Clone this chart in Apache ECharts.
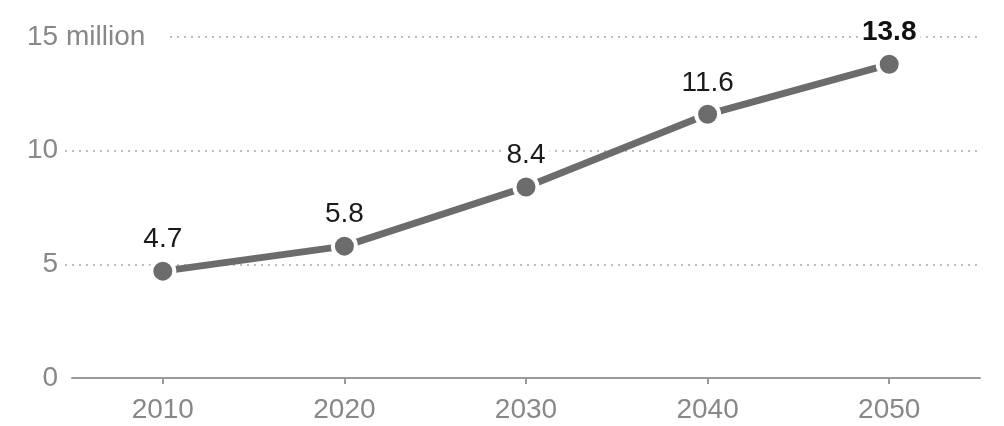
<!DOCTYPE html>
<html>
<head>
<meta charset="utf-8">
<script src="https://cdn.jsdelivr.net/npm/echarts@6/dist/echarts.min.js"></script>
<style>
html,body{margin:0;padding:0;background:#fff;}
#chart{width:1004px;height:426px;}
</style>
</head>
<body>
<div id="chart"></div>
<script>
const years = ['2010', '2020', '2030', '2040', '2050'];
const values = [4.7, 5.8, 8.4, 11.6, 13.8];
const yTickValues = [0, 5, 10, 15];
const yTickLabels = ['0', '5', '10', '15 million'];

const FONT = "'Liberation Sans', Arial, Helvetica, sans-serif";
const chart = echarts.init(document.getElementById('chart'), null, {renderer: 'canvas'});

const seriesData = values.map((v, i) => i === values.length - 1
  ? {value: v, label: {fontWeight: 'bold', color: '#111'}}
  : v);

chart.setOption({
  animation: false,
  backgroundColor: '#fff',
  grid: [
    {left: 65, right: 24, top: 37, bottom: 48},
    {left: 72, right: 24, top: 37, bottom: 48}
  ],
  xAxis: [
    {gridIndex: 0, type: 'value', show: false, min: 0, max: 1},
    {
      gridIndex: 1, type: 'category', data: years, boundaryGap: true,
      axisLine: {show: true, lineStyle: {color: '#9a9a9a', width: 2}},
      axisTick: {show: true, alignWithLabel: true, length: 6, lineStyle: {color: '#9a9a9a', width: 2}},
      axisLabel: {color: '#888888', fontSize: 28, fontFamily: FONT, margin: 18},
      splitLine: {show: false}
    }
  ],
  yAxis: [
    {
      gridIndex: 0, type: 'value', min: 0, max: 15, interval: 5,
      axisLine: {show: false}, axisTick: {show: false},
      axisLabel: {
        color: '#888888', fontSize: 28, fontFamily: FONT, align: 'left', margin: 38,
        formatter: function (val) {
          const idx = yTickValues.indexOf(val);
          const txt = idx >= 0 ? yTickLabels[idx] : String(val);
          if (idx === yTickValues.length - 1) return '{big|' + txt + '}';
          return txt.length === 1 ? '\u2007' + txt : txt;
        },
        rich: {
          big: {backgroundColor: '#fff', padding: [0, 20, 0, 0], color: '#888888', fontSize: 28, fontFamily: FONT}
        }
      },
      splitLine: {show: true, lineStyle: {color: ['rgba(0,0,0,0)', '#a8a8a8', '#a8a8a8', '#a8a8a8'], width: 1.5, type: [2, 5]}}
    },
    {gridIndex: 1, type: 'value', min: 0, max: 15, interval: 5, show: false, splitLine: {show: false}}
  ],
  series: [{
    type: 'line',
    xAxisIndex: 1, yAxisIndex: 1,
    data: seriesData,
    symbol: 'circle',
    symbolSize: 23,
    lineStyle: {color: '#6c6c6c', width: 7},
    itemStyle: {color: '#6c6c6c', borderColor: '#fff', borderWidth: 4},
    label: {
      show: true, position: 'top', distance: 2,
      fontSize: 28, fontFamily: FONT, color: '#1a1a1a',
      backgroundColor: '#fff', padding: [2, 4]
    },
    z: 3
  }]
});
</script>
</body>
</html>
